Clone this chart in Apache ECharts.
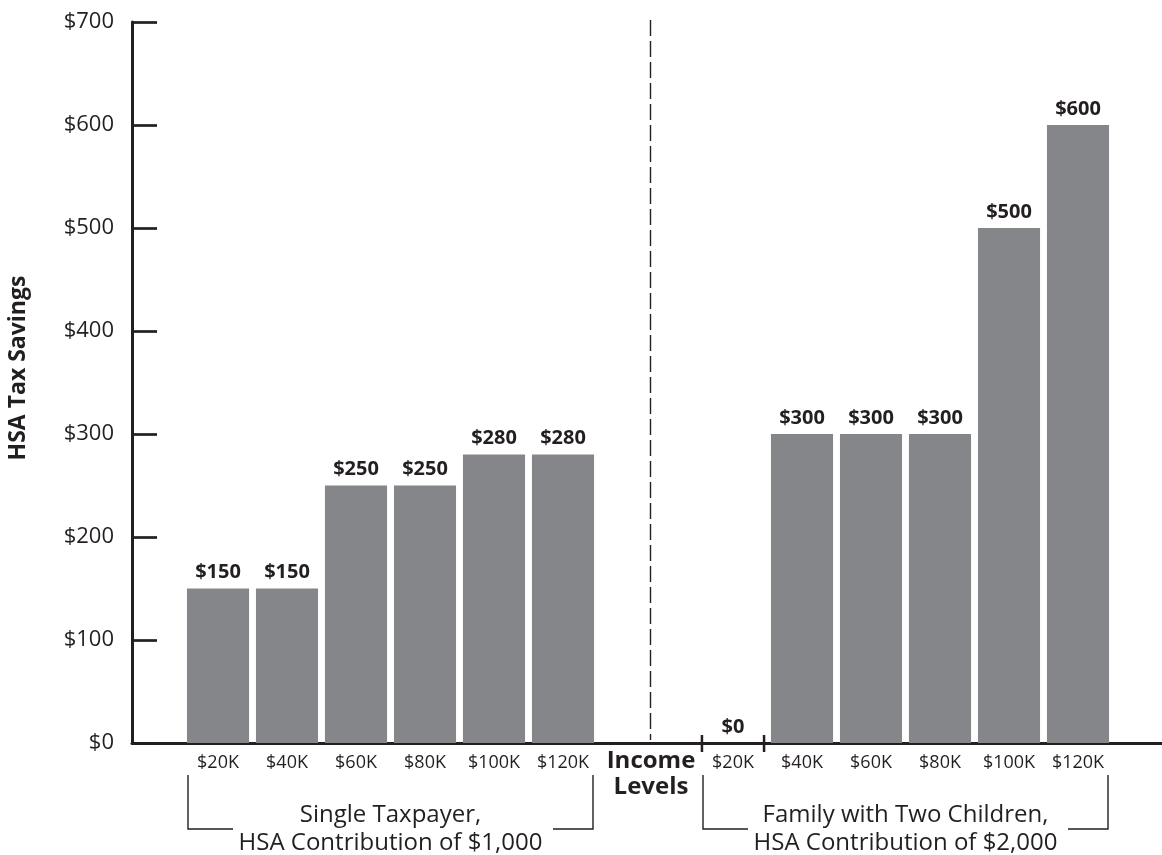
<!DOCTYPE html>
<html>
<head>
<meta charset="utf-8">
<script src="https://cdn.jsdelivr.net/npm/echarts@6/dist/echarts.min.js"></script>
<style>
html,body{margin:0;padding:0;background:#fff;}
#chart{width:1162px;height:855px;}
</style>
</head>
<body>
<div id="chart"></div>
<script>
const categories = ['$20K', '$40K', '$60K', '$80K', '$100K', '$120K'];
const singleValues = [150, 150, 250, 250, 280, 280];
const familyValues = [0, 300, 300, 300, 500, 600];
const yMin = 0, yMax = 700, yStep = 100;
const groupLabels = ['Single Taxpayer,\nHSA Contribution of $1,000', 'Family with Two Children,\nHSA Contribution of $2,000'];
const yTitle = 'HSA Tax Savings';
const xTitle = 'Income\nLevels';

const FONT = 'Open Sans';
const INK = '#231f20';
const BAR = '#85868a';
const TOP = 22, BOTTOM = 112;

const chart = echarts.init(document.getElementById('chart'));

function barSeries(values, idx) {
  return {
    type: 'bar', xAxisIndex: idx, yAxisIndex: idx,
    data: values, barWidth: '90%',
    itemStyle: { color: BAR },
    label: {
      show: true, position: 'top', distance: 6,
      formatter: p => '$' + p.value,
      fontFamily: FONT, fontWeight: 'bold', fontSize: 20, color: INK
    },
    silent: true, animation: false
  };
}

const hiddenY = idx => ({
  type: 'value', gridIndex: idx, min: yMin, max: yMax, interval: yStep, show: false
});
const catX = idx => ({
  type: 'category', gridIndex: idx, data: categories,
  axisLine: { show: false }, axisTick: { show: false }, splitLine: { show: false },
  axisLabel: { fontFamily: FONT, fontSize: 18, color: INK, margin: 11 }
});

const option = {
  backgroundColor: '#fff',
  animation: false,
  grid: [
    { left: 132, right: 0, top: TOP, bottom: BOTTOM },
    { left: 183.5, width: 414, top: TOP, bottom: BOTTOM },
    { left: 698.5, width: 414, top: TOP, bottom: BOTTOM }
  ],
  xAxis: [
    { type: 'value', gridIndex: 0, min: 0, max: 1,
      axisLine: { show: true, lineStyle: { color: INK, width: 3 } },
      axisTick: { show: false }, axisLabel: { show: false }, splitLine: { show: false } },
    catX(1), catX(2)
  ],
  yAxis: [
    { type: 'value', gridIndex: 0, min: yMin, max: yMax, interval: yStep,
      axisLine: { show: true, onZero: false, lineStyle: { color: INK, width: 3 } },
      axisTick: { show: true, inside: true, length: 25, lineStyle: { color: INK, width: 2.7 } },
      axisLabel: { formatter: v => '$' + v, fontFamily: FONT, fontSize: 22, color: INK, margin: 18 },
      splitLine: { show: false } },
    hiddenY(1), hiddenY(2)
  ],
  series: [
    barSeries(singleValues, 1),
    barSeries(familyValues, 2),
    {
      type: 'custom', xAxisIndex: 2, yAxisIndex: 2, silent: true,
      data: familyValues.map((v, i) => [i, v]),
      renderItem: function (params, api) {
        if (api.value(1) !== 0) return null;
        const c = api.coord([api.value(0), 0]);
        const w = api.size([1, 0])[0] * 0.45;
        const st = { stroke: INK, lineWidth: 2.5 };
        return { type: 'group', children: [
          { type: 'line', shape: { x1: c[0] - w, y1: c[1] - 8, x2: c[0] - w, y2: c[1] + 9 }, style: st },
          { type: 'line', shape: { x1: c[0] + w, y1: c[1] - 8, x2: c[0] + w, y2: c[1] + 9 }, style: st }
        ]};
      }
    }
  ],
  graphic: [
    { type: 'text', x: 18, y: 368, rotation: Math.PI / 2,
      style: { text: yTitle, fontFamily: FONT, fontWeight: 'bold', fontSize: 23, fill: INK,
               textAlign: 'center', textVerticalAlign: 'middle' } },
    { type: 'line', shape: { x1: 650.5, y1: 20, x2: 650.5, y2: 740 },
      style: { stroke: INK, lineWidth: 1.4, lineDash: [16, 5] } },
    { type: 'text', x: 651, y: 774,
      style: { text: xTitle, fontFamily: FONT, fontWeight: 'bold', fontSize: 24, fill: INK,
               textAlign: 'center', textVerticalAlign: 'middle', lineHeight: 26 } },
    { type: 'polyline', shape: { points: [[233, 829], [188, 829], [188, 775]] },
      style: { stroke: INK, lineWidth: 1.4, fill: null } },
    { type: 'polyline', shape: { points: [[553, 829], [593, 829], [593, 775]] },
      style: { stroke: INK, lineWidth: 1.4, fill: null } },
    { type: 'text', x: 390.5, y: 829,
      style: { text: groupLabels[0], fontFamily: FONT, fontSize: 24, fill: INK,
               textAlign: 'center', textVerticalAlign: 'middle', lineHeight: 28 } },
    { type: 'polyline', shape: { points: [[748, 829], [703, 829], [703, 775]] },
      style: { stroke: INK, lineWidth: 1.4, fill: null } },
    { type: 'polyline', shape: { points: [[1068, 829], [1108, 829], [1108, 775]] },
      style: { stroke: INK, lineWidth: 1.4, fill: null } },
    { type: 'text', x: 905.5, y: 829,
      style: { text: groupLabels[1], fontFamily: FONT, fontSize: 24, fill: INK,
               textAlign: 'center', textVerticalAlign: 'middle', lineHeight: 28 } }
  ]
};
chart.setOption(option);
</script>
</body>
</html>
